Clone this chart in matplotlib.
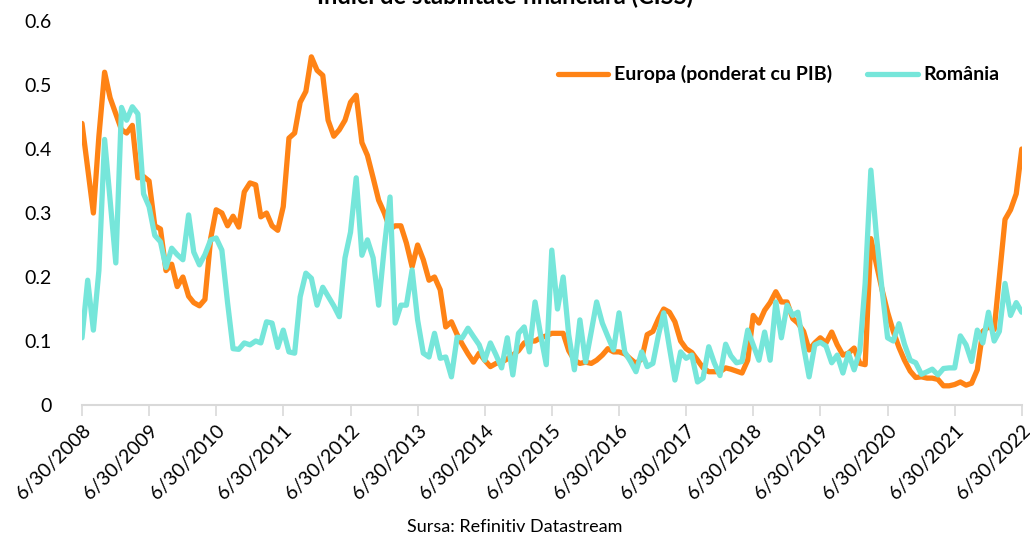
#!/usr/bin/env python3

import matplotlib
matplotlib.use("Agg")
import matplotlib.pyplot as plt
import pandas as pd

plt.rcParams["font.family"] = ["Lato", "DejaVu Sans"]

# monthly CISS values, 6/2008 .. 6/2022
europa = [
    0.44, 0.37, 0.30, 0.42, 0.52, 0.48, 0.455, 0.43, 0.425, 0.437, 0.355, 0.357,
    0.35, 0.28, 0.275, 0.21, 0.22, 0.185, 0.20, 0.17, 0.16, 0.155, 0.165, 0.26,
    0.305, 0.30, 0.28, 0.295, 0.278, 0.333, 0.347, 0.344, 0.294, 0.30, 0.28, 0.273,
    0.31, 0.417, 0.425, 0.473, 0.49, 0.544, 0.523, 0.515, 0.445, 0.42, 0.43, 0.445,
    0.473, 0.484, 0.41, 0.39, 0.355, 0.32, 0.30, 0.275, 0.28, 0.28, 0.253, 0.216,
    0.25, 0.227, 0.195, 0.20, 0.18, 0.122, 0.13, 0.11, 0.095, 0.08, 0.067, 0.081,
    0.07, 0.06, 0.065, 0.067, 0.072, 0.078, 0.085, 0.097, 0.10, 0.10, 0.105, 0.108,
    0.112, 0.112, 0.112, 0.085, 0.07, 0.065, 0.067, 0.065, 0.07, 0.078, 0.088, 0.083,
    0.083, 0.08, 0.072, 0.065, 0.072, 0.11, 0.115, 0.135, 0.15, 0.145, 0.13, 0.10,
    0.088, 0.082, 0.07, 0.058, 0.052, 0.052, 0.052, 0.058, 0.056, 0.053, 0.05, 0.07,
    0.14, 0.128, 0.148, 0.16, 0.177, 0.161, 0.161, 0.135, 0.128, 0.115, 0.086, 0.097,
    0.105, 0.097, 0.114, 0.094, 0.078, 0.081, 0.089, 0.065, 0.063, 0.26, 0.22, 0.18,
    0.145, 0.115, 0.09, 0.07, 0.053, 0.043, 0.044, 0.042, 0.042, 0.04, 0.03, 0.03,
    0.032, 0.036, 0.031, 0.034, 0.055, 0.115, 0.122, 0.118, 0.20, 0.29, 0.305, 0.33,
    0.40,
]
romania = [
    0.105, 0.195, 0.117, 0.21, 0.415, 0.32, 0.222, 0.465, 0.445, 0.466, 0.455, 0.33,
    0.31, 0.265, 0.255, 0.215, 0.245, 0.235, 0.227, 0.297, 0.239, 0.219, 0.235, 0.258,
    0.261, 0.242, 0.16, 0.088, 0.087, 0.097, 0.094, 0.10, 0.097, 0.13, 0.128, 0.09,
    0.117, 0.083, 0.081, 0.169, 0.206, 0.198, 0.156, 0.184, 0.17, 0.155, 0.138, 0.23,
    0.27, 0.355, 0.234, 0.258, 0.23, 0.156, 0.247, 0.325, 0.128, 0.156, 0.156, 0.211,
    0.133, 0.081, 0.075, 0.112, 0.073, 0.075, 0.044, 0.106, 0.105, 0.12, 0.107, 0.094,
    0.07, 0.097, 0.078, 0.058, 0.105, 0.047, 0.112, 0.122, 0.083, 0.161, 0.11, 0.063,
    0.242, 0.15, 0.20, 0.11, 0.055, 0.133, 0.067, 0.115, 0.161, 0.128, 0.107, 0.086,
    0.144, 0.083, 0.068, 0.052, 0.083, 0.06, 0.065, 0.11, 0.144, 0.09, 0.039, 0.083,
    0.073, 0.078, 0.036, 0.042, 0.091, 0.066, 0.046, 0.095, 0.077, 0.066, 0.068, 0.117,
    0.094, 0.07, 0.114, 0.07, 0.161, 0.105, 0.156, 0.14, 0.145, 0.091, 0.044, 0.094,
    0.098, 0.092, 0.066, 0.078, 0.05, 0.081, 0.055, 0.085, 0.19, 0.367, 0.265, 0.18,
    0.105, 0.10, 0.127, 0.095, 0.07, 0.066, 0.048, 0.052, 0.056, 0.047, 0.057, 0.058,
    0.058, 0.108, 0.094, 0.068, 0.117, 0.097, 0.145, 0.10, 0.115, 0.19, 0.14, 0.16,
    0.145,
]
dates = pd.date_range("2008-06-30", periods=len(europa), freq="ME")
tick_dates = pd.date_range("2008-06-30", "2022-06-30", freq="12ME")
tick_labels = ["6/30/{}".format(d.year) for d in tick_dates]

fig = plt.figure(figsize=(10.3, 5.39), dpi=100)
ax = fig.add_axes([0.0796, 0.2486, 0.9124, 0.7124])

ax.plot(dates, europa, color="#FF8315", lw=3.8, label="Europa (ponderat cu PIB)",
        solid_joinstyle="round", solid_capstyle="round")
ax.plot(dates, romania, color="#76E6DA", lw=3.8, label="România",
        solid_joinstyle="round", solid_capstyle="round")

ax.set_xlim(dates[0], dates[-1])
ax.set_ylim(0, 0.6)
ax.set_yticks([0, 0.1, 0.2, 0.3, 0.4, 0.5, 0.6])
ax.set_yticklabels(["0", "0.1", "0.2", "0.3", "0.4", "0.5", "0.6"], fontsize=14)
ax.set_xticks(tick_dates)
ax.set_xticklabels(tick_labels, fontsize=14, rotation=45, ha="right",
                   rotation_mode="anchor")

for side in ["top", "right", "left"]:
    ax.spines[side].set_visible(False)
ax.spines["bottom"].set_color("#D9D9D9")
ax.spines["bottom"].set_linewidth(1.5)
ax.tick_params(axis="y", length=0, pad=22)
ax.tick_params(axis="x", length=8, width=1.2, color="#D9D9D9", pad=4)

leg = ax.legend(loc="upper right", bbox_to_anchor=(0.995, 0.93), ncol=2, frameon=False,
                prop={"weight": "bold", "size": 14}, handlelength=2.6,
                handletextpad=0.3, columnspacing=1.8)

fig.text(0.49, 1 - 4 / 539, "Indici de stabilitate financiară (CISS)", ha="center",
         va="baseline", fontsize=17, fontweight="bold")
fig.text(0.5, 0.022, "Sursa: Refinitiv Datastream", ha="center", va="center",
         fontsize=13)

fig.savefig("out.png", dpi=100)
